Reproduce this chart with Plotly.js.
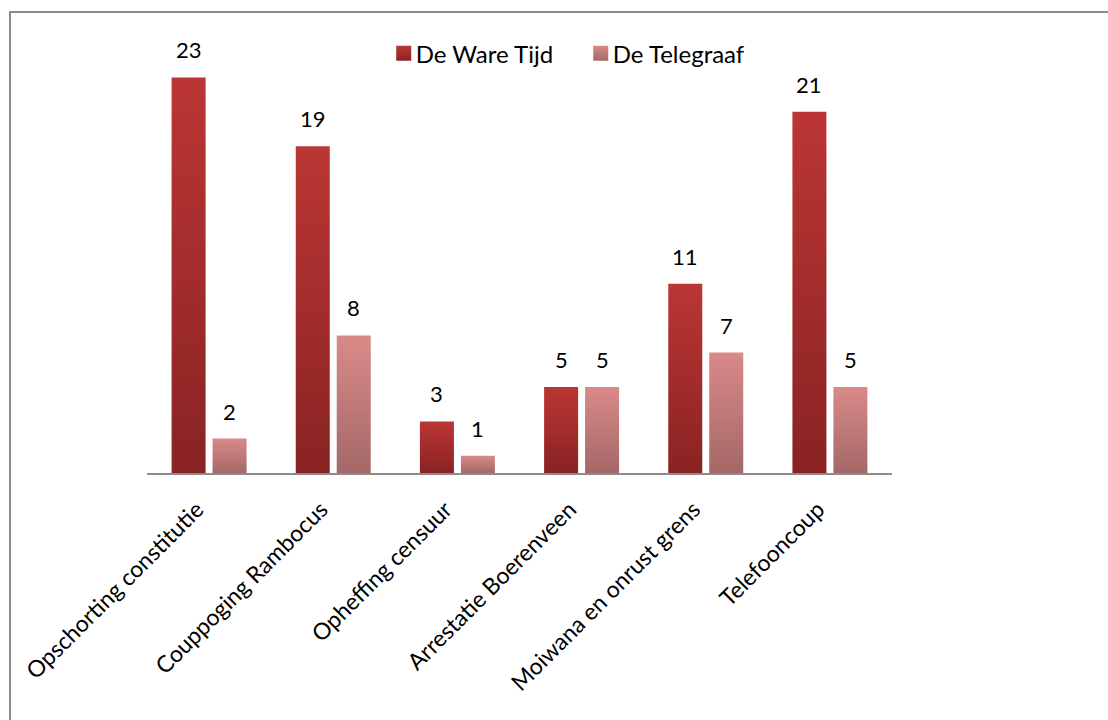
<!DOCTYPE html>
<html>
<head>
<meta charset="utf-8">
<script src="https://cdn.plot.ly/plotly-3.0.1.min.js"></script>
<style>
  html, body { margin: 0; padding: 0; background: #fff; overflow: hidden; }
  #chart { width: 1108px; height: 720px; }
  #frame { position: absolute; left: 9px; top: 11px; width: 1200px; height: 800px;
           border-left: 2px solid #8c8c8c; border-top: 2px solid #8c8c8c; pointer-events: none; }
</style>
</head>
<body>
<div id="chart"></div>
<div id="frame"></div>
<script>
const categories = ["Opschorting constitutie", "Couppoging Rambocus", "Opheffing censuur",
                    "Arrestatie Boerenveen", "Moiwana en onrust grens", "Telefooncoup"];
const deWareTijd = [23, 19, 3, 5, 11, 21];
const deTelegraaf = [2, 8, 1, 5, 7, 5];
const seriesNames = ["De Ware Tijd", "De Telegraaf"];

const FONT = "Lato, 'Open Sans', sans-serif";
const BARGAP = 0.34, GROUPGAP = 0.17;

const traces = [
  { type: 'bar', name: seriesNames[0], x: categories, y: deWareTijd,
    marker: { color: '#a52e2c' }, hoverinfo: 'none' },
  { type: 'bar', name: seriesNames[1], x: categories, y: deTelegraaf,
    marker: { color: '#c27977' }, hoverinfo: 'none' }
];

// value labels above bars
const annotations = [];
const slotFrac = (1 - BARGAP) / 2; // fraction of category width per bar slot
[deWareTijd, deTelegraaf].forEach((vals, si) => {
  vals.forEach((v, i) => {
    annotations.push({
      x: i + (si === 0 ? -slotFrac / 2 : slotFrac / 2), xref: 'x',
      y: v, yref: 'y', text: String(v), showarrow: false,
      yanchor: 'bottom', yshift: 12,
      font: { family: FONT, size: 22, color: '#000' }
    });
  });
});

const layout = {
  width: 1108, height: 720,
  margin: { l: 147, r: 216, t: 43, b: 247 },
  paper_bgcolor: '#fff', plot_bgcolor: '#fff',
  barmode: 'group', bargap: BARGAP, bargroupgap: GROUPGAP,
  showlegend: true,
  legend: { orientation: 'h', x: 0.307, xanchor: 'left', y: 0.975, yanchor: 'middle',
            font: { family: FONT, size: 24, color: '#000' }, itemwidth: 30,
            entrywidth: 152, entrywidthmode: 'pixels',
            tracegroupgap: 0, bgcolor: 'rgba(0,0,0,0)' },
  xaxis: { type: 'category', showline: true, linecolor: '#8c8c8c', linewidth: 2,
           ticks: '', tickangle: -45, showgrid: false, zeroline: false,
           ticklabelstandoff: 12, ticklabelshift: -12,
           tickfont: { family: FONT, size: 23, color: '#000' }, automargin: false },
  yaxis: { range: [0, 25], visible: false, showgrid: false, zeroline: false, fixedrange: true },
  annotations: annotations,
  font: { family: FONT }
};

Plotly.newPlot('chart', traces, layout, { displayModeBar: false, staticPlot: true }).then(gd => {
  // apply vertical gradients to bars and legend swatches
  const svg = gd.querySelector('svg.main-svg');
  const ns = 'http://www.w3.org/2000/svg';
  let defs = svg.querySelector('defs');
  if (!defs) { defs = document.createElementNS(ns, 'defs'); svg.insertBefore(defs, svg.firstChild); }
  const grads = [['g0', '#bb3634', '#892323'], ['g1', '#d98a88', '#a46868']];
  grads.forEach(([id, top, bot]) => {
    const lg = document.createElementNS(ns, 'linearGradient');
    lg.setAttribute('id', id); lg.setAttribute('x1', '0'); lg.setAttribute('y1', '0');
    lg.setAttribute('x2', '0'); lg.setAttribute('y2', '1');
    [[0, top], [1, bot]].forEach(([o, c]) => {
      const s = document.createElementNS(ns, 'stop');
      s.setAttribute('offset', o); s.setAttribute('stop-color', c);
      lg.appendChild(s);
    });
    defs.appendChild(lg);
  });
  gd.querySelectorAll('.barlayer .trace').forEach((t, i) => {
    t.querySelectorAll('path').forEach(p => { p.style.fill = 'url(#g' + i + ')'; });
  });
  gd.querySelectorAll('.legend .traces').forEach((t, i) => {
    t.querySelectorAll('.legendpoints path').forEach(p => {
      p.style.fill = 'url(#g' + i + ')';
      const tr = p.getAttribute('transform') || '';
      p.setAttribute('transform', tr + ' translate(8,0) scale(1.25)');
    });
  });
});
</script>
</body>
</html>
